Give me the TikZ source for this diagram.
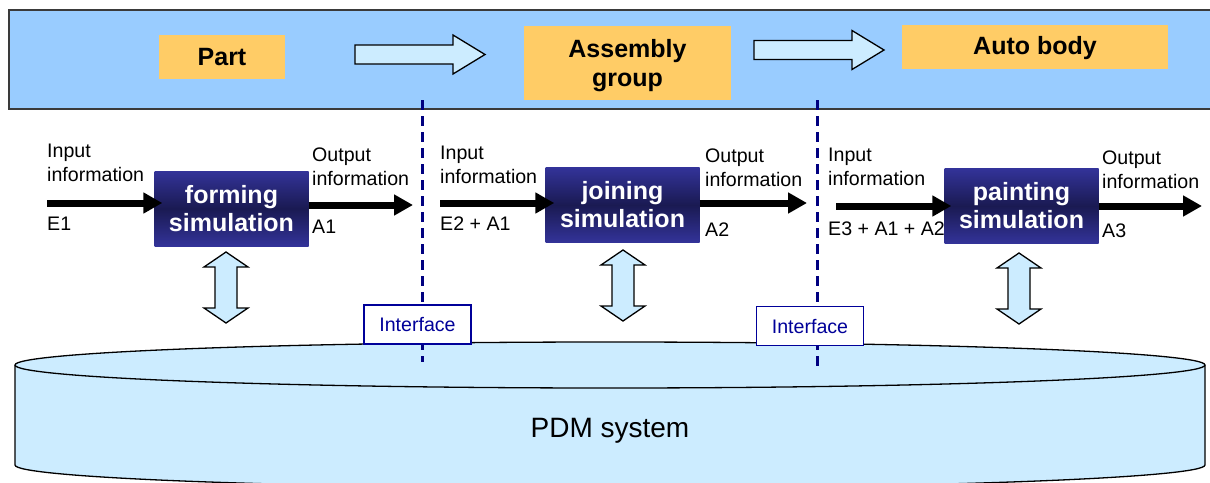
\documentclass[tikz,border=0pt]{standalone}
\usepackage{fontspec}
\setmainfont{Liberation Sans}
\usetikzlibrary{arrows.meta}

\definecolor{bandblue}{HTML}{99CCFF}
\definecolor{bandedge}{HTML}{3A3A3A}
\definecolor{stageorange}{HTML}{FFCC66}
\definecolor{paleblue}{HTML}{CCECFF}
\definecolor{simtop}{HTML}{333399}
\definecolor{simmid}{HTML}{1A1A52}
\definecolor{ifnavy}{HTML}{000099}
\definecolor{dashnavy}{HTML}{000080}

\tikzset{
  stagebox/.style={fill=stageorange, draw=none, inner sep=0pt},
  stagetext/.style={inner sep=0pt, align=center, font=\fontsize{25}{29}\selectfont\bfseries},
  simbox/.style={minimum width=154pt, minimum height=75pt, inner sep=0pt,
    top color=simtop, bottom color=simtop, middle color=simmid,
    text=white, align=center, font=\fontsize{25}{28}\selectfont\bfseries},
  infolabel/.style={anchor=north west, inner sep=0pt, align=left, font=\fontsize{19.6}{23.5}\selectfont},
  datatag/.style={anchor=base west, inner sep=0pt, font=\fontsize{19.6}{23}\selectfont},
  flow/.style={line width=7pt, -{Triangle[length=19pt,width=20pt]}},
  ifbox/.style={draw=ifnavy, line width=1.6pt, fill=white, text=ifnavy,
    minimum width=107pt, minimum height=39pt, inner sep=0pt, font=\fontsize{19.6}{22}\selectfont},
  boundary/.style={draw=dashnavy, line width=3pt, dash pattern=on 10pt off 6pt},
  hollow/.style={fill=paleblue, draw=black, line width=1.3pt, line join=miter},
  stagearrow/.pic={
    \path[hollow] (0,-9.5) -- (98,-9.5) -- (98,-19.5) -- (130,0) -- (98,19.5)
      -- (98,9.5) -- (0,9.5) -- cycle;
  },
  syncarrow/.pic={
    \path[hollow] (0,0) -- (22,15) -- (11,15) -- (11,56) -- (22,56) -- (0,71)
      -- (-22,56) -- (-11,56) -- (-11,15) -- (-22,15) -- cycle;
  },
}

\begin{document}
\begin{tikzpicture}[x=1pt,y=-1pt]
\useasboundingbox (0,0) rectangle (1210,482);

% product levels band
\fill[bandblue] (9,10) rectangle (1215,109);
\draw[bandedge, line width=2pt] (1215,10) -- (9,10) -- (9,109) -- (1215,109);

\node[stagebox, minimum width=126pt, minimum height=44pt] (partbox) at (222,57) {};
\node[stagetext] (part) at (222,57) {Part};
\node[stagebox, minimum width=207pt, minimum height=74pt] (asmbox) at (627.5,63) {};
\node[stagetext] (asm) at (627.5,66) {Assembly\\group};
\node[stagebox, minimum width=266pt, minimum height=44pt] (autobox) at (1035,47) {};
\node[stagetext] (auto) at (1035,48) {Auto body};

\pic at (355,54.5) {stagearrow};
\pic at (754,50) {stagearrow};

% PDM database cylinder
\path[fill=paleblue, draw=black, line width=1.3pt]
  (15,365) -- (15,465)
  arc[start angle=180, end angle=360, x radius=595pt, y radius=23pt]
  -- (1205,365)
  arc[start angle=0, end angle=180, x radius=595pt, y radius=23pt] -- cycle;
\draw[line width=1.3pt] (15,365) arc[start angle=180, end angle=360, x radius=595pt, y radius=23pt];
\node[anchor=base, inner sep=0pt, font=\fontsize{28}{32}\selectfont] (pdm) at (610,437) {PDM system};

% stage boundaries with interfaces
\coordinate (b1top) at (422,100);
\coordinate (b1bot) at (422,362);
\coordinate (b2top) at (817,100);
\coordinate (b2bot) at (817,366);
\draw[boundary] (b1top) -- (b1bot);
\draw[boundary] (b2top) -- (b2bot);
\node[ifbox] (if1) at (417.5,324.5) {Interface};
\node[ifbox] (if2) at (810,326) {Interface};

% simulation steps
\node[simbox] (form) at (231.5,208.5) {forming\\simulation};
\node[simbox] (join) at (622.5,205) {joining\\simulation};
\node[simbox] (paint) at (1021.5,206) {painting\\simulation};

\coordinate (in1) at (47,203);
\coordinate (out1) at (413,205);
\coordinate (in2) at (440,203);
\coordinate (out2) at (807,203);
\coordinate (in3) at (836,206);
\coordinate (out3) at (1202,206);

\draw[flow, shorten >=-8pt] (in1) -- (form.west |- in1);
\draw[flow] (form.east |- out1) -- (out1);
\draw[flow, shorten >=-9pt] (in2) -- (join.west |- in2);
\draw[flow] (join.east |- out2) -- (out2);
\draw[flow, shorten >=-7pt] (in3) -- (paint.west |- in3);
\draw[flow] (paint.east |- out3) -- (out3);

% information labels
\node[infolabel] (inlbl1) at (47,144) {Input\\information};
\node[datatag] (e1) at (47,230) {E1};
\node[infolabel] (outlbl1) at (312,148) {Output\\information};
\node[datatag] (a1) at (312,233) {A1};

\node[infolabel] (inlbl2) at (440,146) {Input\\information};
\node[datatag] (e2) at (440,230) {E2 + A1};
\node[infolabel] (outlbl2) at (705,149) {Output\\information};
\node[datatag] (a2) at (705,236) {A2};

\node[infolabel] (inlbl3) at (828,148) {Input\\information};
\node[datatag] (e3) at (828,235) {E3 + A1 + A2};
\node[infolabel] (outlbl3) at (1102,151) {Output\\information};
\node[datatag] (a3) at (1102,237) {A3};

% data exchange with the PDM system
\pic at (226,252) {syncarrow};
\pic at (623,250) {syncarrow};
\pic at (1019,253) {syncarrow};
\end{tikzpicture}
\end{document}
